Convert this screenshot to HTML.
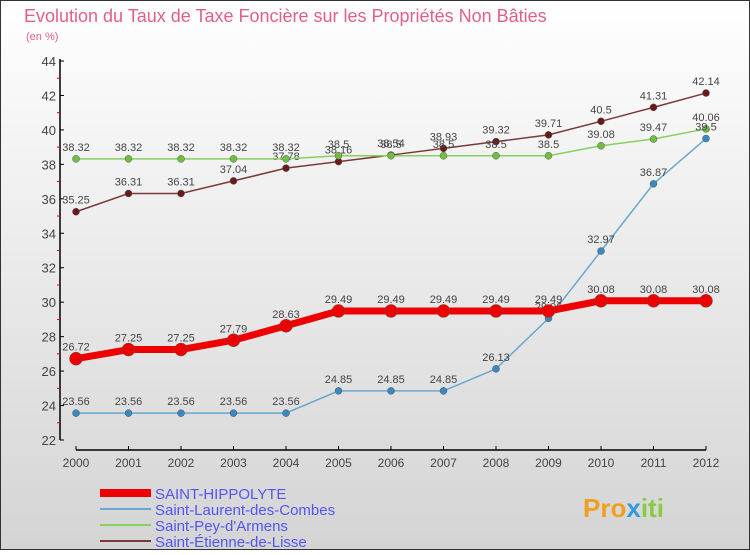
<!DOCTYPE html>
<html><head><meta charset="utf-8"><style>
body{margin:0}
#c{width:750px;height:550px;position:relative;font-family:"Liberation Sans",sans-serif}
</style></head><body>
<div id="c">
<svg id="s" width="750" height="550" xmlns="http://www.w3.org/2000/svg">
<defs><linearGradient id="bg" x1="0" y1="0" x2="0" y2="1"><stop offset="0" stop-color="#ffffff"/><stop offset="1" stop-color="#d4d4d4"/></linearGradient></defs>
<rect x="0.5" y="0.5" width="749" height="549" fill="url(#bg)" stroke="#333"/>
<text x="24" y="22" font-size="18" fill="#e0608a">Evolution du Taux de Taxe Foncière sur les Propriétés Non Bâties</text>
<text x="26" y="40" font-size="11" fill="#e0608a">(en %)</text>
<g id="axes"></g><g id="series"></g><g id="legend"></g>
<text x="583" y="517" font-size="26" font-weight="bold" fill="#f0a020">Pro<tspan fill="#3399dd">x</tspan><tspan fill="#88cc44">iti</tspan></text>
</svg></div>
<script>
const years=[2000,2001,2002,2003,2004,2005,2006,2007,2008,2009,2010,2011,2012];
const yTicks=[22,24,26,28,30,32,34,36,38,40,42,44];
const hippolyte=[26.72,27.25,27.25,27.79,28.63,29.49,29.49,29.49,29.49,29.49,30.08,30.08,30.08];
const laurent=[23.56,23.56,23.56,23.56,23.56,24.85,24.85,24.85,26.13,29.06,32.97,36.87,39.5];
const pey=[38.32,38.32,38.32,38.32,38.32,38.5,38.5,38.5,38.5,38.5,39.08,39.47,40.06];
const etienne=[35.25,36.31,36.31,37.04,37.78,38.16,38.54,38.93,39.32,39.71,40.5,41.31,42.14];
const names=["SAINT-HIPPOLYTE","Saint-Laurent-des-Combes","Saint-Pey-d'Armens","Saint-Étienne-de-Lisse"];
const NS="http://www.w3.org/2000/svg";
const X=i=>76+i*52.5, Y=v=>440-(v-22)*379/22;
function mk(p,t,a){const e=document.createElementNS(NS,t);for(const k in a)e.setAttribute(k,a[k]);p.appendChild(e);return e;}
const ax=document.getElementById('axes');
let l=mk(ax,'line',{x1:60,y1:59,x2:60,y2:440,stroke:'#000','stroke-width':1.5});


l=mk(ax,'line',{x1:76,y1:450,x2:706,y2:450,stroke:'#000','stroke-width':1.5});


yTicks.forEach(v=>{mk(ax,'line',{x1:60,y1:Y(v),x2:64,y2:Y(v),stroke:'#000'});
 const t=mk(ax,'text',{x:56,y:Y(v)+5,'font-size':13,'text-anchor':'end',fill:'#444'});t.textContent=v;
 
 
 if(v<44)mk(ax,'line',{x1:57,y1:Y(v+1),x2:60,y2:Y(v+1),stroke:'#e00'});});
years.forEach((y,i)=>{mk(ax,'line',{x1:X(i),y1:446,x2:X(i),y2:450,stroke:'#000'});
 const t=mk(ax,'text',{x:X(i),y:467,'font-size':12,'text-anchor':'middle',fill:'#444'});t.textContent=y;
 
 });
const sg=document.getElementById('series');
const defs=[[etienne,'#7a3a3a','#6a1a1a',1.5,3.5,names[3]],[pey,'#88d060','#70c040',1.5,3.5,names[2]],[laurent,'#6aa8d0','#3a88c0',1.5,3.5,names[1]],[hippolyte,'#ee0000','#ee0000',7,6.5,names[0]]];
defs.forEach(([d,lc,pc,w,r,n])=>{
 const g=mk(sg,'g',{});
 
 
 mk(g,'polyline',{points:d.map((v,i)=>X(i)+','+Y(v)).join(' '),fill:'none',stroke:lc,'stroke-width':w});
 d.forEach((v,i)=>{const c=mk(g,'circle',{cx:X(i),cy:Y(v),r:r,fill:pc,stroke:'#555','stroke-width':0.5});
  
  
  const t=mk(g,'text',{x:X(i),y:Y(v)-8,'font-size':11,'text-anchor':'middle',fill:'#444'});t.textContent=v;
  
  });
});
const lg=document.getElementById('legend');
const lc=[['#ee0000',8],['#6aa8d0',2],['#88d060',2],['#7a3a3a',2]];
names.forEach((n,i)=>{const y=493+i*16;
 const g=mk(lg,'g',{});
 
 
 mk(g,'line',{x1:100,y1:y,x2:151,y2:y,stroke:lc[i][0],'stroke-width':lc[i][1]});
 const t=mk(g,'text',{x:155,y:y+6,'font-size':15,fill:'#5555ee'});t.textContent=n;});
</script>
</body></html>
